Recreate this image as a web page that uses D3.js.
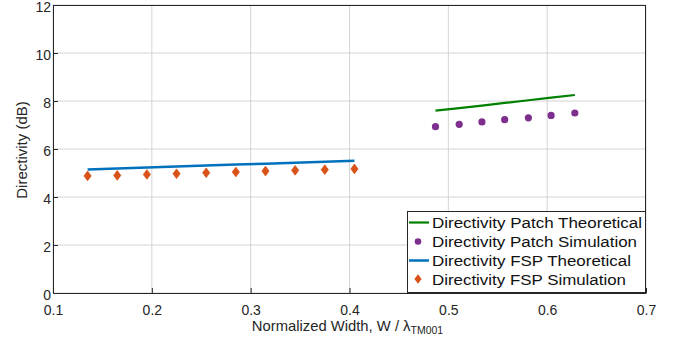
<!DOCTYPE html>
<html><head><meta charset="utf-8">
<script src="https://cdn.jsdelivr.net/npm/d3@7"></script>
<style>body{margin:0;background:#fff;} text{font-family:"Liberation Sans",Arial,sans-serif;}</style>
</head><body>
<svg id="c" width="685" height="348"></svg>
<script>
// Data
const fspX = [0.135, 0.165, 0.195, 0.225, 0.255, 0.285, 0.315, 0.345, 0.375, 0.405];
const fspTheory = [5.15, 5.19, 5.23, 5.27, 5.31, 5.35, 5.39, 5.43, 5.47, 5.51];
const fspSim = [4.88, 4.90, 4.94, 4.97, 5.01, 5.04, 5.08, 5.11, 5.14, 5.17];
const patchX = [0.487, 0.511, 0.534, 0.557, 0.581, 0.604, 0.628];
const patchTheory = [7.60, 7.70, 7.81, 7.92, 8.03, 8.14, 8.25];
const patchSim = [6.93, 7.03, 7.13, 7.22, 7.30, 7.40, 7.50];
const xTicks = [0.1, 0.2, 0.3, 0.4, 0.5, 0.6, 0.7];
const yTicks = [0, 2, 4, 6, 8, 10, 12];
const legendLabels = ["Directivity Patch Theoretical", "Directivity Patch Simulation", "Directivity FSP Theoretical", "Directivity FSP Simulation"];

const L = 53, R = 646, T = 5, B = 293;
const svg = d3.select("#c");
const x = d3.scaleLinear().domain([0.1, 0.7]).range([L, R]);
const y = d3.scaleLinear().domain([0, 12]).range([B, T]);
const axisCol = "#262626";

// grid
svg.append("g").selectAll("line.vx").data(xTicks).join("line")
  .attr("x1", d => x(d)).attr("x2", d => x(d)).attr("y1", T).attr("y2", B)
  .attr("stroke", "#d4d4d4").attr("stroke-width", 1);
svg.append("g").selectAll("line.hy").data(yTicks).join("line")
  .attr("x1", L).attr("x2", R).attr("y1", d => y(d)).attr("y2", d => y(d))
  .attr("stroke", "#d4d4d4").attr("stroke-width", 1);

// axes
const xAxis = svg.append("g").attr("transform", `translate(0,${B})`)
  .call(d3.axisBottom(x).tickValues(xTicks).tickFormat(d3.format(".1f")).tickSizeInner(-5).tickSizeOuter(0).tickPadding(12));
const yAxis = svg.append("g").attr("transform", `translate(${L},0)`)
  .call(d3.axisLeft(y).tickValues(yTicks).tickFormat(d3.format("d")).tickSizeInner(-5).tickSizeOuter(0).tickPadding(2));
[xAxis, yAxis].forEach(g => {
  g.select(".domain").attr("stroke", axisCol).attr("stroke-width", 1);
  g.selectAll(".tick line").attr("stroke", axisCol);
  g.selectAll(".tick text").attr("fill", axisCol).attr("font-size", 14).style("font-family", "Liberation Sans, Arial, sans-serif");
});
yAxis.selectAll(".tick text").attr("dy", "0.45em");
// box top/right
svg.append("line").attr("x1", L).attr("x2", R).attr("y1", T + 0.5).attr("y2", T + 0.5).attr("stroke", axisCol);
svg.append("line").attr("x1", R - 0.5).attr("x2", R - 0.5).attr("y1", T).attr("y2", B).attr("stroke", axisCol);

// lines
const line = d3.line().x(d => x(d[0])).y(d => y(d[1]));
svg.append("path").datum(fspX.map((v, i) => [v, fspTheory[i]])).attr("d", line)
  .attr("fill", "none").attr("stroke", "#0072BD").attr("stroke-width", 2.5);
svg.append("path").datum(patchX.map((v, i) => [v, patchTheory[i]])).attr("d", line)
  .attr("fill", "none").attr("stroke", "#008000").attr("stroke-width", 2.2);

// markers
const diamond = "M0,-4.8L3.6,0L0,4.8L-3.6,0Z";
svg.append("g").selectAll("path").data(fspX.map((v, i) => [v, fspSim[i]])).join("path")
  .attr("d", diamond).attr("transform", d => `translate(${x(d[0])},${y(d[1])})`)
  .attr("fill", "#D95319").attr("stroke", "#D95319").attr("stroke-width", 0.8);
svg.append("g").selectAll("circle").data(patchX.map((v, i) => [v, patchSim[i]])).join("circle")
  .attr("cx", d => x(d[0])).attr("cy", d => y(d[1])).attr("r", 3.6)
  .attr("fill", "#7E2F8E");

// labels
svg.append("text").attr("x", (L + R) / 2 - 2).attr("y", 331).attr("text-anchor", "middle")
  .attr("font-size", 14.8).attr("fill", axisCol)
  .html('Normalized Width, W / λ<tspan font-size="10.5" dy="3">TM001</tspan>');
svg.append("text").attr("transform", `translate(27,${(T + B) / 2 + 1}) rotate(-90)`).attr("text-anchor", "middle")
  .attr("font-size", 15).attr("fill", axisCol).text("Directivity (dB)");

// legend
const lg = svg.append("g");
lg.append("rect").attr("x", 407.5).attr("y", 211.5).attr("width", 238).attr("height", 81)
  .attr("fill", "#fff").attr("stroke", axisCol).attr("stroke-width", 1);
const rowY = [222.5, 241.5, 260.5, 279];
const textLens = [210, 205, 199, 194];
legendLabels.forEach((t, i) => {
  const yy = rowY[i];
  if (i === 0 || i === 2) {
    lg.append("line").attr("x1", 409).attr("x2", 429).attr("y1", yy).attr("y2", yy)
      .attr("stroke", i === 0 ? "#008000" : "#0072BD").attr("stroke-width", i === 0 ? 2.2 : 2.5);
  } else if (i === 1) {
    lg.append("circle").attr("cx", 418).attr("cy", yy).attr("r", 3.3).attr("fill", "#7E2F8E");
  } else {
    lg.append("path").attr("d", diamond).attr("transform", `translate(418,${yy})`).attr("fill", "#D95319");
  }
  lg.append("text").attr("x", 432).attr("y", yy + 5.5).attr("font-size", 15.5).attr("fill", "#111")
    .attr("textLength", textLens[i]).attr("lengthAdjust", "spacingAndGlyphs").text(t);
});
</script>
</body></html>
